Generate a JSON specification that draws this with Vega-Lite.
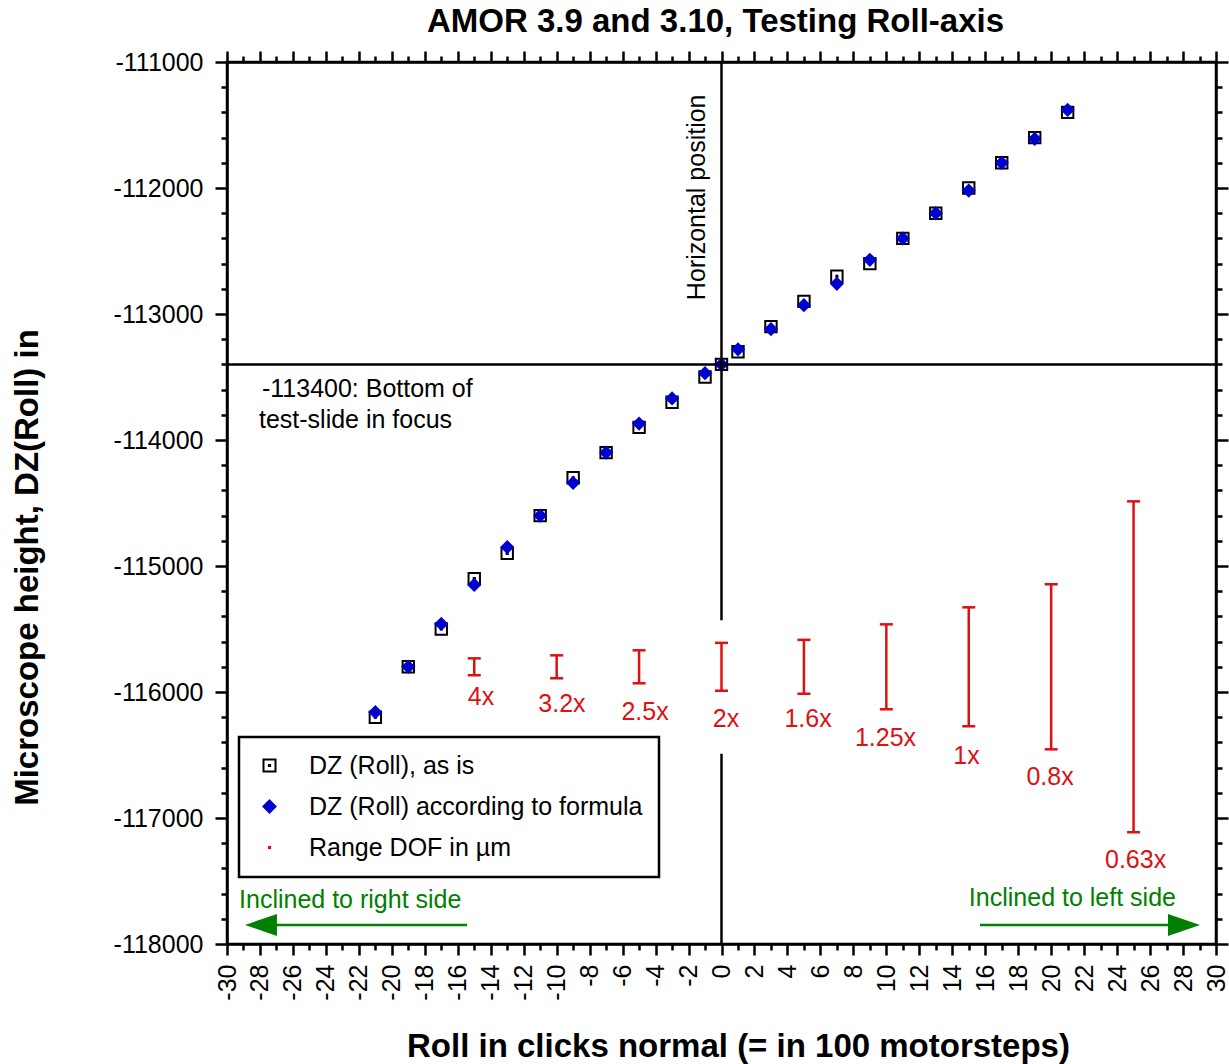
{
  "$schema": "https://vega.github.io/schema/vega-lite/v6.json",
  "width": 989,
  "height": 882,
  "autosize": {"type": "none"},
  "padding": {"left": 227, "top": 62, "right": 13, "bottom": 120},
  "background": "white",
  "config": {
    "font": "Liberation Sans",
    "view": {"stroke": "black", "strokeWidth": 2.5},
    "axis": {"grid": false},
    "legend": {
      "labelFontSize": 25,
      "labelColor": "black",
      "labelFont": "Liberation Sans",
      "strokeColor": "black",
      "strokeWidth": 2.5,
      "fillColor": "white",
      "padding": 16,
      "rowPadding": 15,
      "symbolOffset": 2,
      "labelOffset": 27,
      "symbolSize": 144,
      "symbolStrokeWidth": 2,
      "labelLimit": 600
    }
  },
  "title": {
    "text": "AMOR 3.9 and 3.10, Testing Roll-axis",
    "fontSize": 33,
    "fontWeight": "bold",
    "color": "black",
    "anchor": "middle",
    "offset": 11,
    "dx": -6
  },
  "datasets": {
    "pts": [
      {"x": -21, "y": -116200, "series": "DZ (Roll), as is"},
      {"x": -19, "y": -115800, "series": "DZ (Roll), as is"},
      {"x": -17, "y": -115500, "series": "DZ (Roll), as is"},
      {"x": -15, "y": -115100, "series": "DZ (Roll), as is"},
      {"x": -13, "y": -114900, "series": "DZ (Roll), as is"},
      {"x": -11, "y": -114600, "series": "DZ (Roll), as is"},
      {"x": -9, "y": -114300, "series": "DZ (Roll), as is"},
      {"x": -7, "y": -114100, "series": "DZ (Roll), as is"},
      {"x": -5, "y": -113900, "series": "DZ (Roll), as is"},
      {"x": -3, "y": -113700, "series": "DZ (Roll), as is"},
      {"x": -1, "y": -113500, "series": "DZ (Roll), as is"},
      {"x": 0, "y": -113400, "series": "DZ (Roll), as is"},
      {"x": 1, "y": -113300, "series": "DZ (Roll), as is"},
      {"x": 3, "y": -113100, "series": "DZ (Roll), as is"},
      {"x": 5, "y": -112900, "series": "DZ (Roll), as is"},
      {"x": 7, "y": -112700, "series": "DZ (Roll), as is"},
      {"x": 9, "y": -112600, "series": "DZ (Roll), as is"},
      {"x": 11, "y": -112400, "series": "DZ (Roll), as is"},
      {"x": 13, "y": -112200, "series": "DZ (Roll), as is"},
      {"x": 15, "y": -112000, "series": "DZ (Roll), as is"},
      {"x": 17, "y": -111800, "series": "DZ (Roll), as is"},
      {"x": 19, "y": -111600, "series": "DZ (Roll), as is"},
      {"x": 21, "y": -111400, "series": "DZ (Roll), as is"},
      {"x": -21, "y": -116160, "series": "DZ (Roll) according to formula"},
      {"x": -19, "y": -115800, "series": "DZ (Roll) according to formula"},
      {"x": -17, "y": -115460, "series": "DZ (Roll) according to formula"},
      {"x": -15, "y": -115150, "series": "DZ (Roll) according to formula"},
      {"x": -13, "y": -114850, "series": "DZ (Roll) according to formula"},
      {"x": -11, "y": -114600, "series": "DZ (Roll) according to formula"},
      {"x": -9, "y": -114340, "series": "DZ (Roll) according to formula"},
      {"x": -7, "y": -114100, "series": "DZ (Roll) according to formula"},
      {"x": -5, "y": -113870, "series": "DZ (Roll) according to formula"},
      {"x": -3, "y": -113670, "series": "DZ (Roll) according to formula"},
      {"x": -1, "y": -113470, "series": "DZ (Roll) according to formula"},
      {"x": 0, "y": -113400, "series": "DZ (Roll) according to formula"},
      {"x": 1, "y": -113280, "series": "DZ (Roll) according to formula"},
      {"x": 3, "y": -113120, "series": "DZ (Roll) according to formula"},
      {"x": 5, "y": -112930, "series": "DZ (Roll) according to formula"},
      {"x": 7, "y": -112760, "series": "DZ (Roll) according to formula"},
      {"x": 9, "y": -112570, "series": "DZ (Roll) according to formula"},
      {"x": 11, "y": -112400, "series": "DZ (Roll) according to formula"},
      {"x": 13, "y": -112200, "series": "DZ (Roll) according to formula"},
      {"x": 15, "y": -112020, "series": "DZ (Roll) according to formula"},
      {"x": 17, "y": -111800, "series": "DZ (Roll) according to formula"},
      {"x": 19, "y": -111610, "series": "DZ (Roll) according to formula"},
      {"x": 21, "y": -111380, "series": "DZ (Roll) according to formula"}
    ],
    "dof": [
      {"x": -15, "hi": -115733, "lo": -115867, "label": "4x", "lx": -14.59, "ly": -116103},
      {"x": -10, "hi": -115709, "lo": -115891, "label": "3.2x", "lx": -9.68, "ly": -116159},
      {"x": -5, "hi": -115669, "lo": -115931, "label": "2.5x", "lx": -4.64, "ly": -116222},
      {"x": 0, "hi": -115610, "lo": -115990, "label": "2x", "lx": 0.27, "ly": -116278},
      {"x": 5, "hi": -115586, "lo": -116014, "label": "1.6x", "lx": 5.25, "ly": -116278},
      {"x": 10, "hi": -115463, "lo": -116137, "label": "1.25x", "lx": 9.95, "ly": -116429},
      {"x": 15, "hi": -115328, "lo": -116272, "label": "1x", "lx": 14.86, "ly": -116571},
      {"x": 20, "hi": -115145, "lo": -116455, "label": "0.8x", "lx": 19.93, "ly": -116738},
      {"x": 25, "hi": -114487, "lo": -117113, "label": "0.63x", "lx": 25.12, "ly": -117397}
    ]
  },
  "resolve": {"axis": {"x": "independent", "y": "independent"}},
  "layer": [
    {
      "data": {"name": "pts"},
      "mark": {"type": "point", "opacity": 1, "strokeWidth": 2, "size": 130},
      "encoding": {
        "x": {
          "field": "x", "type": "quantitative",
          "scale": {"domain": [-30, 30], "nice": false, "zero": false},
          "axis": {
            "orient": "bottom",
            "values": [-30,-29,-28,-27,-26,-25,-24,-23,-22,-21,-20,-19,-18,-17,-16,-15,-14,-13,-12,-11,-10,-9,-8,-7,-6,-5,-4,-3,-2,-1,0,1,2,3,4,5,6,7,8,9,10,11,12,13,14,15,16,17,18,19,20,21,22,23,24,25,26,27,28,29,30],
            "labelExpr": "datum.value % 2 === 0 ? '' + datum.value : ''",
            "tickSize": {"condition": {"test": "datum.value % 2 === 0", "value": 11}, "value": 6},
            "tickWidth": 2.5, "tickColor": "black",
            "domainColor": "black", "domainWidth": 2.5,
            "labelAngle": 270, "labelAlign": "right", "labelBaseline": "middle",
            "labelFontSize": 25, "labelColor": "black", "labelPadding": 9,
            "labelOverlap": false, "labelFlush": false, "labelBound": false,
            "title": "Roll in clicks normal (= in 100 motorsteps)",
            "titleFontSize": 33, "titleFontWeight": "bold", "titleColor": "black",
            "titleX": 511, "titleY": 112, "titleAlign": "center", "titleBaseline": "alphabetic",
            "grid": false
          }
        },
        "y": {
          "field": "y", "type": "quantitative",
          "scale": {"domain": [-118000, -111000], "nice": false, "zero": false},
          "axis": {
            "orient": "left",
            "values": [-118000,-117800,-117600,-117400,-117200,-117000,-116800,-116600,-116400,-116200,-116000,-115800,-115600,-115400,-115200,-115000,-114800,-114600,-114400,-114200,-114000,-113800,-113600,-113400,-113200,-113000,-112800,-112600,-112400,-112200,-112000,-111800,-111600,-111400,-111200,-111000],
            "labelExpr": "datum.value % 1000 === 0 ? '' + datum.value : ''",
            "tickSize": {"condition": {"test": "datum.value % 1000 === 0", "value": 12}, "value": 6},
            "tickWidth": 2.5, "tickColor": "black",
            "domainColor": "black", "domainWidth": 2.5,
            "labelFontSize": 25, "labelColor": "black", "labelPadding": 12,
            "labelOverlap": false, "labelFlush": false, "labelBound": false,
            "title": "Microscope height, DZ(Roll) in",
            "titleFontSize": 33, "titleFontWeight": "bold", "titleColor": "black",
            "titleAngle": 270, "titleX": -190, "titleY": 505, "titleAlign": "center", "titleBaseline": "alphabetic",
            "grid": false
          }
        },
        "shape": {
          "field": "series", "type": "nominal",
          "scale": {
            "domain": ["DZ (Roll), as is", "DZ (Roll) according to formula", "Range DOF in µm"],
            "range": ["M-1,-1H1V1H-1Z M-0.1,-0.1H0.1V0.1H-0.1Z", "diamond", "M-0.1,-0.1H0.1V0.1H-0.1Z"]
          },
          "legend": {"orient": "none", "legendX": 12, "legendY": 675, "title": null}
        },
        "fill": {
          "field": "series", "type": "nominal",
          "scale": {
            "domain": ["DZ (Roll), as is", "DZ (Roll) according to formula", "Range DOF in µm"],
            "range": ["transparent", "#0000d0", "#dd1111"]
          },
          "legend": {"orient": "none", "legendX": 12, "legendY": 675, "title": null}
        },
        "stroke": {
          "field": "series", "type": "nominal",
          "scale": {
            "domain": ["DZ (Roll), as is", "DZ (Roll) according to formula", "Range DOF in µm"],
            "range": ["black", "#0000d0", "#dd1111"]
          },
          "legend": {"orient": "none", "legendX": 12, "legendY": 675, "title": null}
        }
      }
    },
    {
      "data": {"values": [{"x": -30, "x2": 30, "y": -113400}]},
      "mark": {"type": "rule", "color": "black", "strokeWidth": 2.5},
      "encoding": {
        "x": {
          "field": "x", "type": "quantitative",
          "scale": {"domain": [-30, 30], "nice": false, "zero": false},
          "axis": {
            "orient": "top",
            "values": [-30,-29,-28,-27,-26,-25,-24,-23,-22,-21,-20,-19,-18,-17,-16,-15,-14,-13,-12,-11,-10,-9,-8,-7,-6,-5,-4,-3,-2,-1,0,1,2,3,4,5,6,7,8,9,10,11,12,13,14,15,16,17,18,19,20,21,22,23,24,25,26,27,28,29,30],
            "labels": false,
            "tickSize": {"condition": {"test": "datum.value % 2 === 0", "value": 11}, "value": 6},
            "tickWidth": 2.5, "tickColor": "black",
            "domainColor": "black", "domainWidth": 2.5,
            "title": null, "grid": false
          }
        },
        "x2": {"field": "x2"},
        "y": {
          "field": "y", "type": "quantitative",
          "scale": {"domain": [-118000, -111000], "nice": false, "zero": false},
          "axis": {
            "orient": "right",
            "values": [-118000,-117800,-117600,-117400,-117200,-117000,-116800,-116600,-116400,-116200,-116000,-115800,-115600,-115400,-115200,-115000,-114800,-114600,-114400,-114200,-114000,-113800,-113600,-113400,-113200,-113000,-112800,-112600,-112400,-112200,-112000,-111800,-111600,-111400,-111200,-111000],
            "labels": false,
            "tickSize": {"condition": {"test": "datum.value % 1000 === 0", "value": 12}, "value": 6},
            "tickWidth": 2.5, "tickColor": "black",
            "domainColor": "black", "domainWidth": 2.5,
            "title": null, "grid": false
          }
        }
      }
    },
    {
      "data": {"values": [{"x": 0, "y": -111000, "y2": -115430}, {"x": 0, "y": -116490, "y2": -118000}]},
      "mark": {"type": "rule", "color": "black", "strokeWidth": 2.5},
      "encoding": {
        "x": {"field": "x", "type": "quantitative", "axis": null},
        "y": {"field": "y", "type": "quantitative", "axis": null},
        "y2": {"field": "y2"}
      }
    },
    {
      "data": {"name": "dof"},
      "mark": {"type": "rule", "color": "#dd1111", "strokeWidth": 2.5},
      "encoding": {
        "x": {"field": "x", "type": "quantitative", "axis": null},
        "y": {"field": "hi", "type": "quantitative", "axis": null},
        "y2": {"field": "lo"}
      }
    },
    {
      "data": {"name": "dof"},
      "mark": {"type": "tick", "color": "#dd1111", "orient": "horizontal", "size": 13, "thickness": 2.5, "opacity": 1},
      "encoding": {
        "x": {"field": "x", "type": "quantitative", "axis": null},
        "y": {"field": "hi", "type": "quantitative", "axis": null}
      }
    },
    {
      "data": {"name": "dof"},
      "mark": {"type": "tick", "color": "#dd1111", "orient": "horizontal", "size": 13, "thickness": 2.5, "opacity": 1},
      "encoding": {
        "x": {"field": "x", "type": "quantitative", "axis": null},
        "y": {"field": "lo", "type": "quantitative", "axis": null}
      }
    },
    {
      "data": {"name": "dof"},
      "mark": {"type": "text", "color": "#dd1111", "fontSize": 25, "align": "center", "baseline": "alphabetic"},
      "encoding": {
        "x": {"field": "lx", "type": "quantitative", "axis": null},
        "y": {"field": "ly", "type": "quantitative", "axis": null},
        "text": {"field": "label"}
      }
    },
    {
      "data": {"values": [
        {"x": -27.88, "y": -113659, "label": "-113400: Bottom of"},
        {"x": -28.06, "y": -113905, "label": "test-slide in focus"}
      ]},
      "mark": {"type": "text", "color": "black", "fontSize": 25, "align": "left", "baseline": "alphabetic"},
      "encoding": {
        "x": {"field": "x", "type": "quantitative", "axis": null},
        "y": {"field": "y", "type": "quantitative", "axis": null},
        "text": {"field": "label"}
      }
    },
    {
      "data": {"values": [{"x": -1.0, "y": -112890, "label": "Horizontal position"}]},
      "mark": {"type": "text", "color": "black", "fontSize": 25, "align": "left", "baseline": "alphabetic", "angle": 270},
      "encoding": {
        "x": {"field": "x", "type": "quantitative", "axis": null},
        "y": {"field": "y", "type": "quantitative", "axis": null},
        "text": {"field": "label"}
      }
    },
    {
      "data": {"values": [{"x": -29.27, "y": -117714, "label": "Inclined to right side"}]},
      "mark": {"type": "text", "color": "#008000", "fontSize": 25, "align": "left", "baseline": "alphabetic"},
      "encoding": {
        "x": {"field": "x", "type": "quantitative", "axis": null},
        "y": {"field": "y", "type": "quantitative", "axis": null},
        "text": {"field": "label"}
      }
    },
    {
      "data": {"values": [{"x": 27.57, "y": -117698, "label": "Inclined to left side"}]},
      "mark": {"type": "text", "color": "#008000", "fontSize": 25, "align": "right", "baseline": "alphabetic"},
      "encoding": {
        "x": {"field": "x", "type": "quantitative", "axis": null},
        "y": {"field": "y", "type": "quantitative", "axis": null},
        "text": {"field": "label"}
      }
    },
    {
      "data": {"values": [{"x": -27.9, "x2": -15.44, "y": -117849}, {"x": 15.68, "x2": 28.0, "y": -117849}]},
      "mark": {"type": "rule", "color": "#008000", "strokeWidth": 2.5},
      "encoding": {
        "x": {"field": "x", "type": "quantitative", "axis": null},
        "x2": {"field": "x2"},
        "y": {"field": "y", "type": "quantitative", "axis": null}
      }
    },
    {
      "data": {"values": [{"x": -27.94, "y": -117849}]},
      "mark": {"type": "point", "shape": "M-1,0L1,-0.69L1,0.69Z", "size": 1024, "filled": true, "color": "#008000", "opacity": 1, "strokeWidth": 0},
      "encoding": {
        "x": {"field": "x", "type": "quantitative", "axis": null},
        "y": {"field": "y", "type": "quantitative", "axis": null}
      }
    },
    {
      "data": {"values": [{"x": 28.06, "y": -117849}]},
      "mark": {"type": "point", "shape": "M1,0L-1,-0.69L-1,0.69Z", "size": 1024, "filled": true, "color": "#008000", "opacity": 1, "strokeWidth": 0},
      "encoding": {
        "x": {"field": "x", "type": "quantitative", "axis": null},
        "y": {"field": "y", "type": "quantitative", "axis": null}
      }
    }
  ]
}
